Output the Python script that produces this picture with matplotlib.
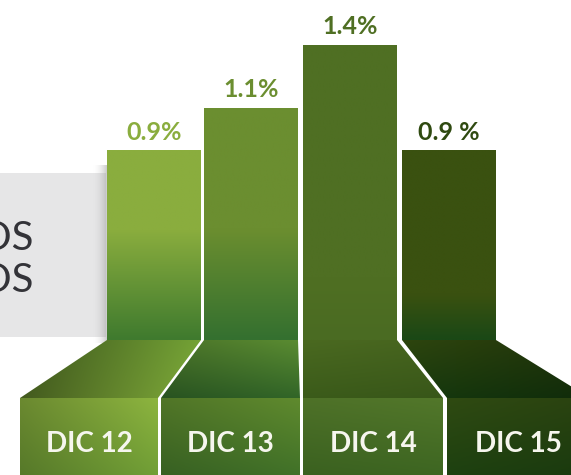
import numpy as np
import matplotlib
matplotlib.use('Agg')
import matplotlib.pyplot as plt
from matplotlib.patches import Polygon, Rectangle
from matplotlib.colors import to_rgb

# data
categories = ['DIC 12', 'DIC 13', 'DIC 14', 'DIC 15']
values = [0.9, 1.1, 1.4, 0.9]
value_labels = ['0.9%', '1.1%', '1.4%', '0.9 %']
side_text = ['DOS', 'DOS']

# layout (pixels)
W, H = 571, 475
BASE = 340        # bottom of the bars
FLOOR = 398       # top of the label boxes
PX_PER_UNIT = 211
bar_left = [107, 204, 303, 402]
bar_w = 94
box_x = [(20, 158), (161, 300), (303, 443), (447, 590)]

# colours
label_colors = ['#8aad3e', '#6b8e30', '#4f6f23', '#2f4a10']
bar_top = ['#8aad3e', '#6b8e30', '#4f6f23', '#3a5110']
bar_bot = ['#3f7a2e', '#34702f', '#4a6b22', '#1a4816']
fade_px = [110, 110, 60, 45]
trap_stops = [[(0, '#7aa437'), (1, '#6e9a33')],
              [(0, '#2d5c24'), (1, '#527f2d')],
              [(0, '#3b5b1a'), (1, '#4a6920')],
              [(0, '#163a0e'), (1, '#2d450e')]]
trap_shade = [(0.45, -0.05), (0.1, -0.1), (0.0, 0.05), (0.0, 0.25)]
box_stops = [[(0, '#6a9633'), (1, '#86ac3c')],
             [(0, '#3f7028'), (1, '#5f8a2e')],
             [(0, '#3c6521'), (1, '#52772a')],
             [(0, '#1c4010'), (1, '#2f4a12')]]
box_shade = [(0.2, -0.05), (0.15, 0.0), (0.05, 0.0), (0.0, 0.1)]


def grad_img(stops, shade=(0, 0), ny=120, nx=60):
    pos = [p for p, _ in stops]
    cols = np.array([to_rgb(c) for _, c in stops])
    t = np.linspace(0, 1, ny)
    rgb = np.stack([np.interp(t, pos, cols[:, k]) for k in range(3)], axis=-1)
    s = np.linspace(shade[0], shade[1], nx)
    img = rgb[:, None, :] * (1 - s[None, :, None])
    return np.clip(img, 0, 1)


def paint(ax, patch, extent, stops, shade=(0, 0), z=2):
    patch.set_facecolor('none')
    patch.set_edgecolor('none')
    if patch.axes is None:
        ax.add_patch(patch)
    im = ax.imshow(grad_img(stops, shade), extent=extent, origin='lower',
                   aspect='auto', interpolation='bilinear', zorder=z)
    im.set_clip_path(patch)


fig = plt.figure(figsize=(W / 100, H / 100), dpi=100)
fig.patch.set_facecolor('white')

ax = fig.add_axes([0, 0, 1, 1])
ax.set_xlim(0, W)
ax.set_ylim(H, 0)
ax.axis('off')

# grey side panel with soft shadow
ax.add_patch(Rectangle((0, 173), 106, 164, facecolor='#e6e6e7',
                       edgecolor='none', zorder=1))
sh = np.linspace(0, 1, 40)
sh_img = np.ones((2, 40, 4))
sh_img[..., :3] = 0.55
sh_img[..., 3] = 0.45 * sh ** 2
ax.imshow(sh_img, extent=(92, 107, 343, 165), origin='lower',
          aspect='auto', interpolation='bilinear', zorder=1.5)
for k, yb in enumerate([250, 292]):
    ax.text(34, yb, side_text[k], ha='right', va='baseline', fontsize=29,
            family=['Lato', 'DejaVu Sans'], color='#333338')

# floor trapezoids and label boxes
for i in range(len(categories)):
    l, r = bar_left[i], bar_left[i] + bar_w
    bl, br = box_x[i]
    trap = Polygon([(l, BASE), (r, BASE), (br, FLOOR), (bl, FLOOR)], closed=True)
    paint(ax, trap, (min(l, bl), max(r, br), FLOOR, BASE),
          trap_stops[i], trap_shade[i])
    box = Rectangle((bl, FLOOR), br - bl, H - FLOOR + 5)
    paint(ax, box, (bl, br, H + 5, FLOOR), box_stops[i], box_shade[i])
    ax.text((bl + br) / 2, 452, categories[i], ha='center', va='baseline',
            fontsize=20, fontweight='bold', family=['Lato', 'DejaVu Sans'],
            color='#f6f6ee', zorder=5)

ax.set_xlim(0, W)
ax.set_ylim(H, 0)

# bars in value units
ax_b = fig.add_axes([0, (H - BASE) / H, 1, BASE / H])
ax_b.set_xlim(0, W)
ax_b.set_ylim(0, BASE / PX_PER_UNIT)
ax_b.axis('off')
ax_b.patch.set_alpha(0)

centers = [x + bar_w / 2 for x in bar_left]
bars = ax_b.bar(centers, values, width=bar_w, color='none')
for i, rect in enumerate(bars):
    v = values[i]
    p = min(fade_px[i] / (v * PX_PER_UNIT), 1)
    stops = [(0, bar_bot[i]), (p, bar_top[i]), (1, bar_top[i])]
    x0 = rect.get_x()
    paint(ax_b, rect, (x0, x0 + rect.get_width(), 0, v), stops)
    ax_b.annotate(value_labels[i], (centers[i], v), xytext=(0, 7.5),
                  textcoords='offset points', ha='center', va='baseline',
                  fontsize=18, fontweight='bold', family=['Lato', 'DejaVu Sans'],
                  color=label_colors[i])

ax_b.set_xlim(0, W)
ax_b.set_ylim(0, BASE / PX_PER_UNIT)

fig.savefig('out.png', dpi=100)
